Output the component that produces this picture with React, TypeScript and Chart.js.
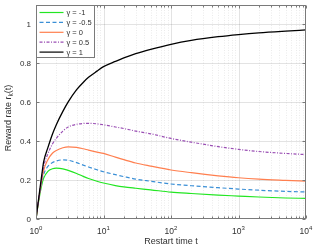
import React, { useEffect, useRef } from "react";
import { Chart, registerables } from "chart.js";

Chart.register(...registerables);

const restartTimes = [1, 1.05, 1.1, 1.2, 1.3, 1.5, 1.75, 2, 2.5, 3, 4, 5, 6, 8, 10, 15, 20, 30, 50, 100, 200, 500, 1000, 2000, 5000, 10000];

const gammaMinus1 = [0, 0.05, 0.095, 0.165, 0.21, 0.245, 0.258, 0.261, 0.258, 0.25, 0.234, 0.219, 0.208, 0.194, 0.185, 0.172, 0.165, 0.158, 0.15, 0.138, 0.131, 0.123, 0.118, 0.113, 0.108, 0.106];
const gammaMinus05 = [0, 0.052, 0.1, 0.175, 0.23, 0.27, 0.29, 0.298, 0.304, 0.302, 0.29, 0.277, 0.267, 0.253, 0.243, 0.228, 0.218, 0.205, 0.194, 0.18, 0.171, 0.161, 0.154, 0.148, 0.142, 0.139];
const gamma0 = [0, 0.053, 0.103, 0.185, 0.25, 0.305, 0.338, 0.352, 0.366, 0.371, 0.368, 0.361, 0.354, 0.344, 0.337, 0.318, 0.305, 0.288, 0.272, 0.252, 0.238, 0.222, 0.212, 0.205, 0.199, 0.195];
const gamma05 = [0, 0.055, 0.106, 0.195, 0.27, 0.335, 0.385, 0.415, 0.452, 0.473, 0.487, 0.491, 0.492, 0.489, 0.484, 0.473, 0.465, 0.452, 0.438, 0.414, 0.395, 0.372, 0.358, 0.347, 0.337, 0.331];
const gamma1 = [0, 0.057, 0.11, 0.21, 0.295, 0.367, 0.436, 0.485, 0.553, 0.602, 0.665, 0.702, 0.728, 0.76, 0.783, 0.81, 0.828, 0.85, 0.872, 0.898, 0.918, 0.937, 0.948, 0.957, 0.966, 0.972];

const seriesLabels = ["γ = -1", "γ = -0.5", "γ = 0", "γ = 0.5", "γ = 1"];
const seriesValues = [gammaMinus1, gammaMinus05, gamma0, gamma05, gamma1];
const seriesColors = ["#22e622", "#3a8fd6", "#ff7f4f", "#9a4fb4", "#000000"];
const seriesDash: number[][] = [[], [4, 2.5], [], [3, 1.5, 1, 1.5], []];

const yTicks = [0, 0.2, 0.4, 0.6, 0.8, 1];
const yTickLabels = ["0", "0.2", "0.4", "0.6", "0.8", "1"];
const xMajor = [1, 10, 100, 1000, 10000];
const xExponents = ["0", "1", "2", "3", "4"];

const FONT = "'Liberation Sans', Arial, Helvetica, sans-serif";
const TXT = "#303030";

const matlabPlugin = {
  id: "matlabLook",
  beforeDatasetsDraw(chart: any) {
    const { ctx, chartArea: a, scales } = chart;
    const x = scales.x;
    const y = scales.y;
    ctx.save();
    ctx.lineWidth = 1;
    ctx.strokeStyle = "rgba(0,0,0,0.08)";
    ctx.setLineDash([1, 1.5]);
    for (let d = 0; d < 4; d++) {
      for (let m = 2; m <= 9; m++) {
        const px = Math.round(x.getPixelForValue(m * Math.pow(10, d))) + 0.5;
        ctx.beginPath();
        ctx.moveTo(px, a.top);
        ctx.lineTo(px, a.bottom);
        ctx.stroke();
      }
    }
    ctx.setLineDash([]);
    ctx.strokeStyle = "rgba(0,0,0,0.11)";
    for (const v of xMajor.slice(1, -1)) {
      const px = Math.round(x.getPixelForValue(v)) + 0.5;
      ctx.beginPath();
      ctx.moveTo(px, a.top);
      ctx.lineTo(px, a.bottom);
      ctx.stroke();
    }
    for (const v of yTicks.slice(1)) {
      const py = Math.round(y.getPixelForValue(v)) + 0.5;
      ctx.beginPath();
      ctx.moveTo(a.left, py);
      ctx.lineTo(a.right, py);
      ctx.stroke();
    }
    ctx.restore();
  },
  afterDatasetsDraw(chart: any) {
    const { ctx, chartArea: a, scales } = chart;
    const x = scales.x;
    const y = scales.y;
    ctx.save();
    const L = Math.round(a.left) + 0.5;
    const R = Math.round(a.right) - 0.5;
    const T = Math.round(a.top) + 0.5;
    const B = Math.round(a.bottom) - 0.5;
    ctx.strokeStyle = "#7a7a7a";
    ctx.lineWidth = 1;
    ctx.strokeRect(L, T, R - L, B - T);
    ctx.beginPath();
    for (let d = 0; d < 4; d++) {
      for (let m = 2; m <= 9; m++) {
        const px = Math.round(x.getPixelForValue(m * Math.pow(10, d))) + 0.5;
        ctx.moveTo(px, B);
        ctx.lineTo(px, B - 2);
        ctx.moveTo(px, T);
        ctx.lineTo(px, T + 2);
      }
    }
    for (const v of xMajor) {
      const px = Math.round(x.getPixelForValue(v)) + 0.5;
      ctx.moveTo(px, B);
      ctx.lineTo(px, B - 3);
      ctx.moveTo(px, T);
      ctx.lineTo(px, T + 3);
    }
    for (const v of yTicks) {
      const py = Math.round(y.getPixelForValue(v)) + 0.5;
      ctx.moveTo(L, py);
      ctx.lineTo(L + 3, py);
      ctx.moveTo(R, py);
      ctx.lineTo(R - 3, py);
    }
    ctx.stroke();

    // legend
    const lx = L;
    const ly = T;
    const lw = 58;
    const lh = 52;
    ctx.fillStyle = "#ffffff";
    ctx.fillRect(lx, ly, lw, lh);
    ctx.strokeStyle = "#7a7a7a";
    ctx.strokeRect(lx, ly, lw, lh);
    ctx.font = `7.5px ${FONT}`;
    ctx.textBaseline = "middle";
    ctx.textAlign = "left";
    for (let i = 0; i < seriesLabels.length; i++) {
      const ry = ly + 7 + i * 9.9;
      ctx.strokeStyle = seriesColors[i];
      ctx.lineWidth = 1.2;
      ctx.setLineDash(seriesDash[i]);
      ctx.beginPath();
      ctx.moveTo(lx + 3, ry);
      ctx.lineTo(lx + 27, ry);
      ctx.stroke();
      ctx.setLineDash([]);
      ctx.fillStyle = TXT;
      ctx.fillText(seriesLabels[i], lx + 30, ry + 0.5);
    }

    // y tick labels
    ctx.font = `8px ${FONT}`;
    ctx.fillStyle = TXT;
    ctx.textAlign = "right";
    ctx.textBaseline = "middle";
    yTicks.forEach((v, i) => {
      ctx.fillText(yTickLabels[i], a.left - 5, y.getPixelForValue(v) + 0.5);
    });

    // x tick labels with superscripts
    xMajor.forEach((v, i) => {
      const px = x.getPixelForValue(v);
      ctx.font = `8.5px ${FONT}`;
      const wb = ctx.measureText("10").width;
      ctx.font = `6px ${FONT}`;
      const we = ctx.measureText(xExponents[i]).width;
      const start = px - (wb + we) / 2;
      ctx.textAlign = "left";
      ctx.textBaseline = "middle";
      ctx.font = `8.5px ${FONT}`;
      ctx.fillText("10", start, a.bottom + 12.5);
      ctx.font = `6px ${FONT}`;
      ctx.fillText(xExponents[i], start + wb, a.bottom + 9);
    });

    // x title
    ctx.font = `9px ${FONT}`;
    ctx.textAlign = "center";
    ctx.fillText("Restart time t", (a.left + a.right) / 2, a.bottom + 22.5);

    // y title with subscript
    ctx.translate(9, (a.top + a.bottom) / 2 + 6);
    ctx.rotate(-Math.PI / 2);
    ctx.textAlign = "left";
    ctx.font = `9px ${FONT}`;
    const p1 = "Reward rate r";
    const p3 = "(t)";
    const w1 = ctx.measureText(p1).width;
    const w3 = ctx.measureText(p3).width;
    ctx.font = `6.5px ${FONT}`;
    const w2 = ctx.measureText("k").width;
    const total = w1 + w2 + w3;
    let cx = -total / 2;
    ctx.font = `9px ${FONT}`;
    ctx.fillText(p1, cx, 0);
    cx += w1;
    ctx.font = `6.5px ${FONT}`;
    ctx.fillText("k", cx, 2.5);
    cx += w2;
    ctx.font = `9px ${FONT}`;
    ctx.fillText(p3, cx, 0);
    ctx.restore();
  },
};

export default function App() {
  const ref = useRef<HTMLCanvasElement | null>(null);
  useEffect(() => {
    document.body.style.margin = "0";
    const canvas = ref.current;
    if (!canvas) return;
    const datasets = seriesValues.map((vals, i) => ({
      label: seriesLabels[i],
      data: restartTimes.map((t, j) => ({ x: t, y: vals[j] })),
      borderColor: seriesColors[i],
      borderWidth: i === 4 ? 1.3 : 1.2,
      borderDash: seriesDash[i],
      pointRadius: 0,
      fill: false,
      cubicInterpolationMode: "monotone" as const,
      order: 4 - i,
    }));
    const chart = new Chart(canvas, {
      type: "line",
      data: { datasets },
      options: {
        animation: false,
        responsive: false,
        devicePixelRatio: 1,
        layout: { padding: { top: 5, right: 13, left: 0, bottom: 0 } },
        plugins: { legend: { display: false }, tooltip: { enabled: false } },
        scales: {
          x: {
            type: "logarithmic",
            min: 1,
            max: 10000,
            grid: { display: false },
            border: { display: false },
            ticks: { display: false },
            afterFit: (s: any) => {
              s.height = 30;
            },
          },
          y: {
            type: "linear",
            min: 0,
            max: 1.1,
            grid: { display: false },
            border: { display: false },
            ticks: { display: false },
            afterFit: (s: any) => {
              s.width = 36;
            },
          },
        },
      },
      plugins: [matlabPlugin],
    });
    return () => chart.destroy();
  }, []);
  return (
    <div style={{ position: "fixed", left: 0, top: 0, width: 319, height: 249, background: "#fff" }}>
      <canvas ref={ref} width={319} height={249} style={{ width: 319, height: 249, display: "block" }} />
    </div>
  );
}
